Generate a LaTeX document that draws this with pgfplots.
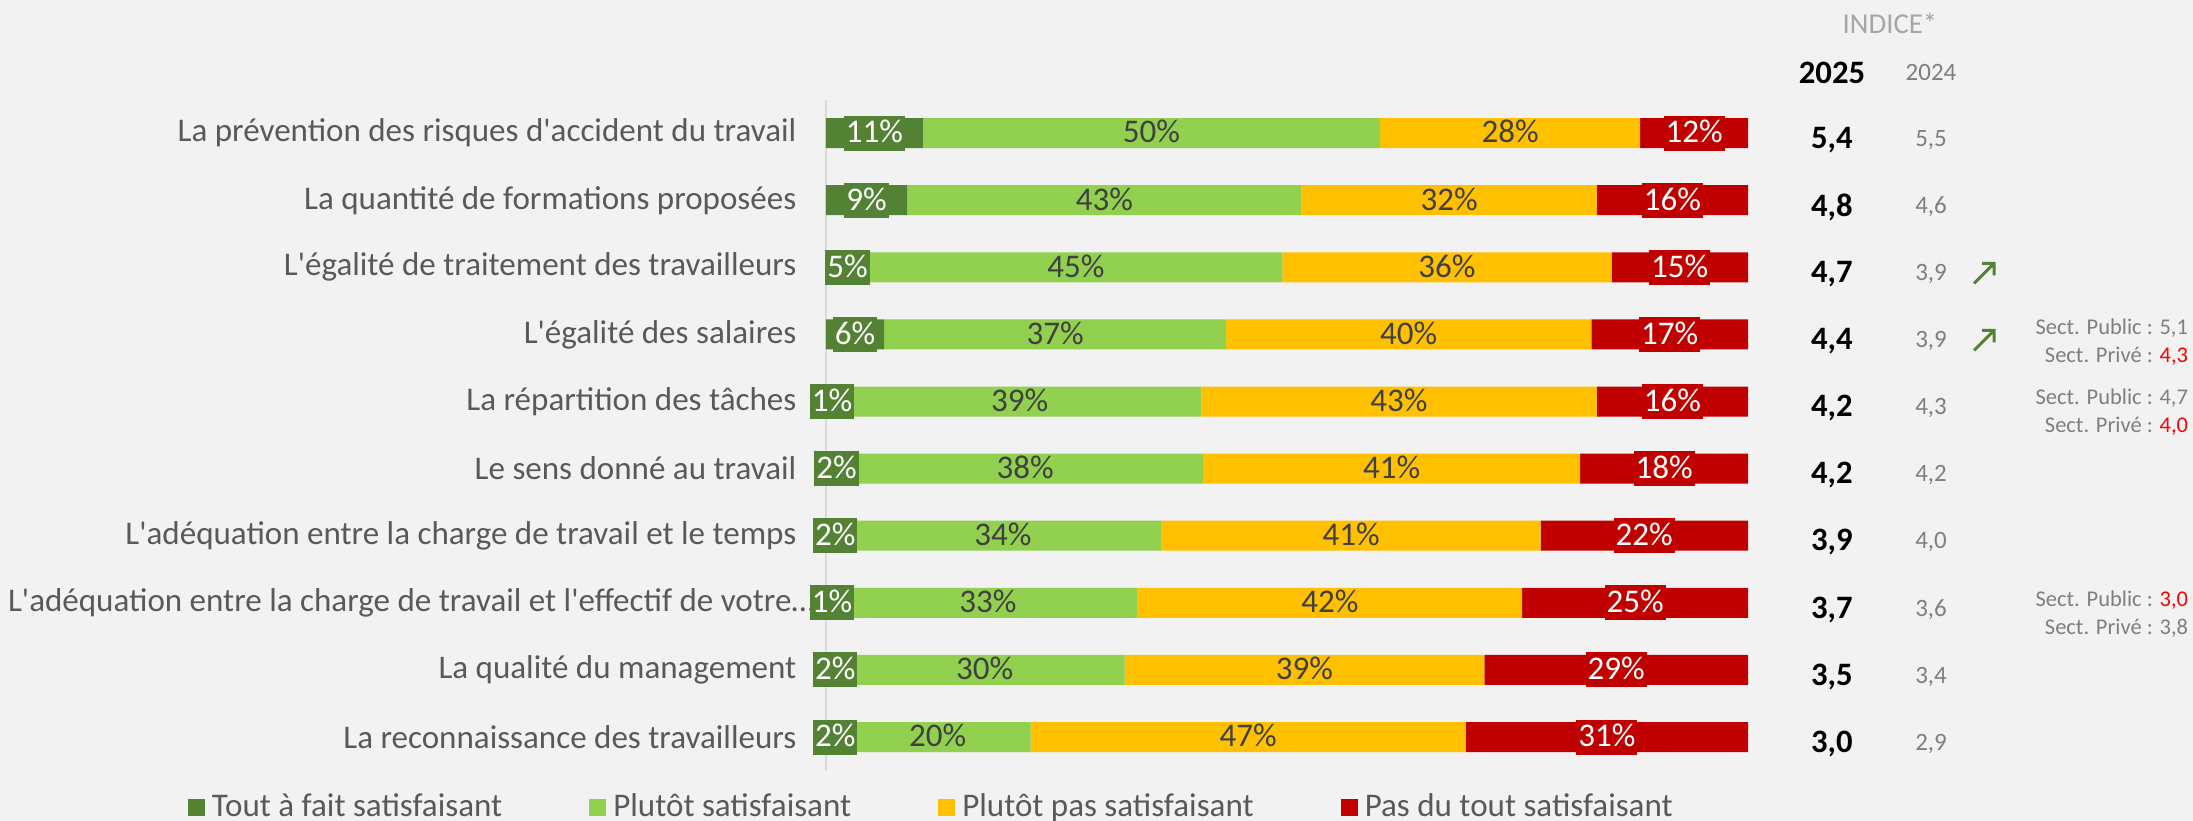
\documentclass[border=0pt]{standalone}
\usepackage{fontspec}
\setmainfont{Carlito}
\usepackage{pgfplots}
\usepackage{pgfplotstable}
\pgfplotsset{compat=1.18}

\definecolor{cDark}{HTML}{548235}
\definecolor{cLight}{HTML}{92D050}
\definecolor{cYel}{HTML}{FFC000}
\definecolor{cRed}{HTML}{C00000}
\definecolor{bg}{HTML}{F2F2F2}
\definecolor{txt}{HTML}{595959}
\definecolor{lbl}{HTML}{404040}
\definecolor{old}{HTML}{7F7F7F}
\definecolor{indice}{HTML}{A6A6A6}
\definecolor{vred}{HTML}{FF0000}

% share of answers per item (segment widths in %, printed labels)
\pgfplotstableread{
y  a    la  b    lb  c    lc  d    ld
1  10.5 11  49.6 50  28.2 28  11.7 12
2  8.8  9   42.8 43  32.0 32  16.4 16
3  4.7  5   44.8 45  35.7 36  14.8 15
4  6.3  6   37.1 37  39.6 40  17.0 17
5  1.3  1   39.4 39  42.9 43  16.4 16
6  2.3  2   38.6 38  40.9 41  18.2 18
7  2.0  2   34.4 34  41.1 41  22.5 22
8  1.3  1   32.5 33  41.7 42  24.5 25
9  2.0  2   30.4 30  39.0 39  28.6 29
10 2.0  2   20.2 20  47.2 47  30.6 31
}\parts

% index 2025 / 2024
\pgfplotstableread{
y  v25 v24
1  5,4 5,5
2  4,8 4,6
3  4,7 3,9
4  4,4 3,9
5  4,2 4,3
6  4,2 4,2
7  3,9 4,0
8  3,7 3,6
9  3,5 3,4
10 3,0 2,9
}\indice

\pgfdeclareplotmark{upar}{%
  \pgfpathmoveto{\pgfqpoint{-0.1cm}{-0.1cm}}%
  \pgfpathlineto{\pgfqpoint{0.1cm}{0.1cm}}%
  \pgfpathmoveto{\pgfqpoint{-0.02cm}{0.1cm}}%
  \pgfpathlineto{\pgfqpoint{0.1cm}{0.1cm}}%
  \pgfpathlineto{\pgfqpoint{0.1cm}{-0.02cm}}%
  \pgfusepathqstroke}

\newcommand\mainfs{\fontsize{9.4}{11.2}\selectfont}
\newcommand\sectfs{\fontsize{6.4}{7.97}\selectfont}

\begin{document}
\begin{tikzpicture}
\fill[bg] (0,0) rectangle (21.93,8.21);

\begin{axis}[
    at={(8.26cm,0.504cm)}, anchor=south west,
    scale only axis, width=9.22cm, height=6.71cm,
    xbar stacked, bar width=0.30cm,
    xmin=0, xmax=100, ymin=0.5, ymax=10.5, y dir=reverse,
    axis x line=none, axis y line*=left,
    y axis line style={draw=black!15, line width=0.5pt},
    ytick={1,...,10}, major tick length=0pt,
    yticklabels={
      La prévention des risques d\textquotesingle accident du travail,
      La quantité de formations proposées,
      L\textquotesingle égalité de traitement des travailleurs,
      L\textquotesingle égalité des salaires,
      La répartition des tâches,
      Le sens donné au travail,
      L\textquotesingle adéquation entre la charge de travail et le temps,
      L\textquotesingle adéquation entre la charge de travail et l\textquotesingle effectif de votre…\hspace*{-0.18cm},
      La qualité du management,
      La reconnaissance des travailleurs},
    yticklabel style={font=\mainfs, text=txt, anchor=east, inner sep=0pt, xshift=-0.29cm},
    clip=false,
    point meta=explicit symbolic,
    nodes near coords={\pgfplotspointmeta\%},
    every node near coord/.append style={font=\mainfs, inner xsep=0.02cm, inner ysep=0pt,
      minimum height=0.35cm, text depth=0.03cm},
    legend columns=4,
    legend style={at={(0.117,-0.0557)}, anchor=center, draw=none, fill=none,
      font=\mainfs, text=txt, inner xsep=0pt,
      /tikz/every even column/.append style={column sep=0.80cm}},
    legend image code/.code={\draw[#1, draw=none] (0cm,-0.085cm) rectangle (0.17cm,0.085cm);},
  ]
  \addplot[fill=cDark, draw=none,
    every node near coord/.append style={text=white, fill=cDark}]
    table[x=a, y=y, meta=la] {\parts};
  \addlegendentry{Tout à fait satisfaisant}
  \addplot[fill=cLight, draw=none,
    every node near coord/.append style={text=lbl}]
    table[x=b, y=y, meta=lb] {\parts};
  \addlegendentry{Plutôt satisfaisant}
  \addplot[fill=cYel, draw=none,
    every node near coord/.append style={text=lbl}]
    table[x=c, y=y, meta=lc] {\parts};
  \addlegendentry{Plutôt pas satisfaisant}
  \addplot[fill=cRed, draw=none,
    every node near coord/.append style={text=white, fill=cRed}]
    table[x=d, y=y, meta=ld] {\parts};
  \addlegendentry{Pas du tout satisfaisant}
\end{axis}

\begin{axis}[
    at={(8.26cm,0.504cm)}, anchor=south west,
    scale only axis, width=9.22cm, height=6.71cm,
    xmin=0, xmax=100, ymin=0.5, ymax=10.5, y dir=reverse,
    hide axis, clip=false,
    point meta=explicit symbolic,
  ]
  \addplot[draw=none, mark=none, nodes near coords={\pgfplotspointmeta},
    every node near coord/.append style={anchor=center, font=\fontsize{9.3}{11}\selectfont\bfseries, text=black}]
    table[x expr=109.1, y expr=\thisrow{y}+0.1, meta=v25] {\indice};
  \addplot[draw=none, mark=none, nodes near coords={\pgfplotspointmeta},
    every node near coord/.append style={anchor=center, font=\fontsize{7.1}{8.5}\selectfont, text=old}]
    table[x expr=119.85, y expr=\thisrow{y}+0.1, meta=v24] {\indice};
  % significant rises
  \addplot[only marks, mark=upar, mark options={draw=cDark, line width=0.85pt}]
    coordinates {(125.6,3.09) (125.6,4.09)};
  \node[anchor=east, align=right, inner sep=0pt, font=\sectfs, text=old]
    at (axis cs:147.8,4.12) {Sect. Public : 5,1\\Sect. Privé : \textcolor{vred}{4,3}};
  \node[anchor=east, align=right, inner sep=0pt, font=\sectfs, text=old]
    at (axis cs:147.8,5.16) {Sect. Public : 4,7\\Sect. Privé : \textcolor{vred}{4,0}};
  \node[anchor=east, align=right, inner sep=0pt, font=\sectfs, text=old]
    at (axis cs:147.8,8.17) {Sect. Public : \textcolor{vred}{3,0}\\Sect. Privé : 3,8};
\end{axis}

\node[font=\fontsize{8.2}{9.6}\selectfont, text=indice] at (18.90,7.98) {INDICE*};
\node[font=\fontsize{9.3}{11}\selectfont\bfseries] at (18.32,7.48) {2025};
\node[font=\fontsize{7.1}{8.5}\selectfont, text=old] at (19.31,7.48) {2024};

\pgfresetboundingbox
\path[use as bounding box] (0,0) rectangle (21.93,8.21);
\end{tikzpicture}
\end{document}
